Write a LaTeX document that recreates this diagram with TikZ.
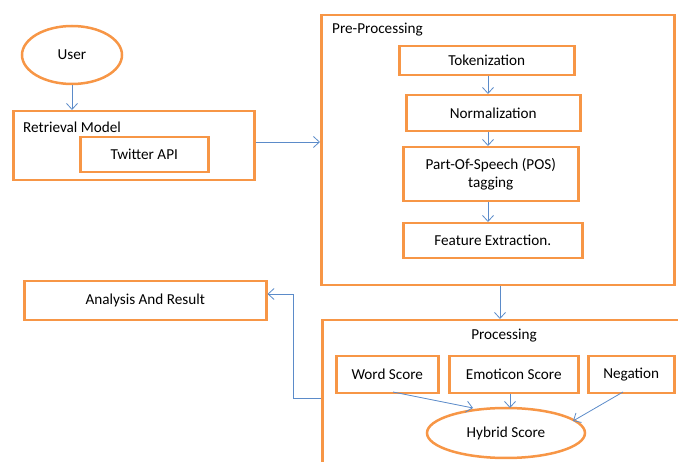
\documentclass[tikz,border=0pt]{standalone}
\usepackage{fontspec}
\setmainfont{Carlito}
\usetikzlibrary{shapes.geometric,arrows.meta}
\definecolor{boxor}{HTML}{F79646}
\definecolor{arrbl}{HTML}{5B8BC9}
\tikzset{
  obox/.style={draw=boxor, line width=2.5pt, rectangle, anchor=north west, inner sep=0pt, font=\fontsize{15.2}{18}\selectfont, align=center},
  oell/.style={draw=boxor, line width=2.5pt, ellipse, inner sep=0pt, font=\fontsize{15.2}{18}\selectfont},
  lbl/.style={font=\fontsize{15.2}{18}\selectfont, inner sep=0pt},
  conn/.style={draw=arrbl, line width=0.8pt, -{Straight Barb[length=6pt,width=11pt]}}
}
\begin{document}
\begin{tikzpicture}[x=1pt,y=-1pt]
\useasboundingbox (0,0) rectangle (678,462);
\clip (0,0) rectangle (678,462);
% User
\node[oell, minimum width=100pt, minimum height=58pt] (user) at (72,55) {User};
% Retrieval
\node[obox, minimum width=241pt, minimum height=69pt] (ret) at (12,110) {};
\node[lbl, anchor=west] (retl) at (23,127) {Retrieval Model};
\node[obox, minimum width=128pt, minimum height=35pt] (tw) at (79,136) {Twitter API};
% Pre-processing
\node[obox, minimum width=353pt, minimum height=270pt] (pre) at (320,14) {};
\node[lbl, anchor=west] (prel) at (332,30) {Pre-Processing};
\node[obox, minimum width=175pt, minimum height=29pt] (tok) at (398,45) {Tokenization};
\node[obox, minimum width=174pt, minimum height=36pt] (norm) at (405,94) {Normalization};
\node[obox, minimum width=175pt, minimum height=54pt] (pos) at (402,146) {Part-Of-Speech (POS)\\tagging};
\node[obox, minimum width=179pt, minimum height=35pt] (feat) at (402,222) {Feature Extraction.};
% Processing
\node[obox, minimum width=380pt, minimum height=170pt] (proc) at (321,319) {};
\node[lbl] (procl) at (504,336) {Processing};
\node[obox, minimum width=102pt, minimum height=37pt] (word) at (335,355) {Word Score};
\node[obox, minimum width=129pt, minimum height=37pt] (emo) at (448,355) {Emoticon Score};
\node[obox, minimum width=86pt, minimum height=37pt] (neg) at (587,355) {Negation};
\node[oell, minimum width=158pt, minimum height=50pt] (hyb) at (506,433) {Hybrid Score};
% Analysis
\node[obox, minimum width=242pt, minimum height=39pt] (ana) at (23,280) {Analysis And Result};
% connectors
\draw[conn] (user.south) -- (user.south |- ret.north);
\coordinate (r1) at (ret.east |- 0,142);
\draw[conn] (r1) -- (r1 -| pre.west);
\draw[conn] (tok.south -| 488,0) -- (norm.north -| 488,0);
\draw[conn] (norm.south -| 488,0) -- (pos.north -| 488,0);
\draw[conn] (pos.south -| 488,0) -- (feat.north -| 488,0);
\draw[conn] (pre.south -| 500,0) -- (proc.north -| 500,0);
\coordinate (w1) at (393,392);
\coordinate (w2) at (473,408);
\draw[conn] (w1) -- (w2);
\draw[conn] (emo.south -| 510,0) -- (510,408);
\coordinate (n1) at (623,392);
\coordinate (n2) at (573,421);
\draw[conn] (n1) -- (n2);
\coordinate (p1) at (proc.west |- 0,398);
\coordinate (p2) at (293,398);
\coordinate (p3) at (293,294);
\draw[conn] (p1) -- (p2) -- (p3) -- (p3 -| ana.east);
\end{tikzpicture}
\end{document}
